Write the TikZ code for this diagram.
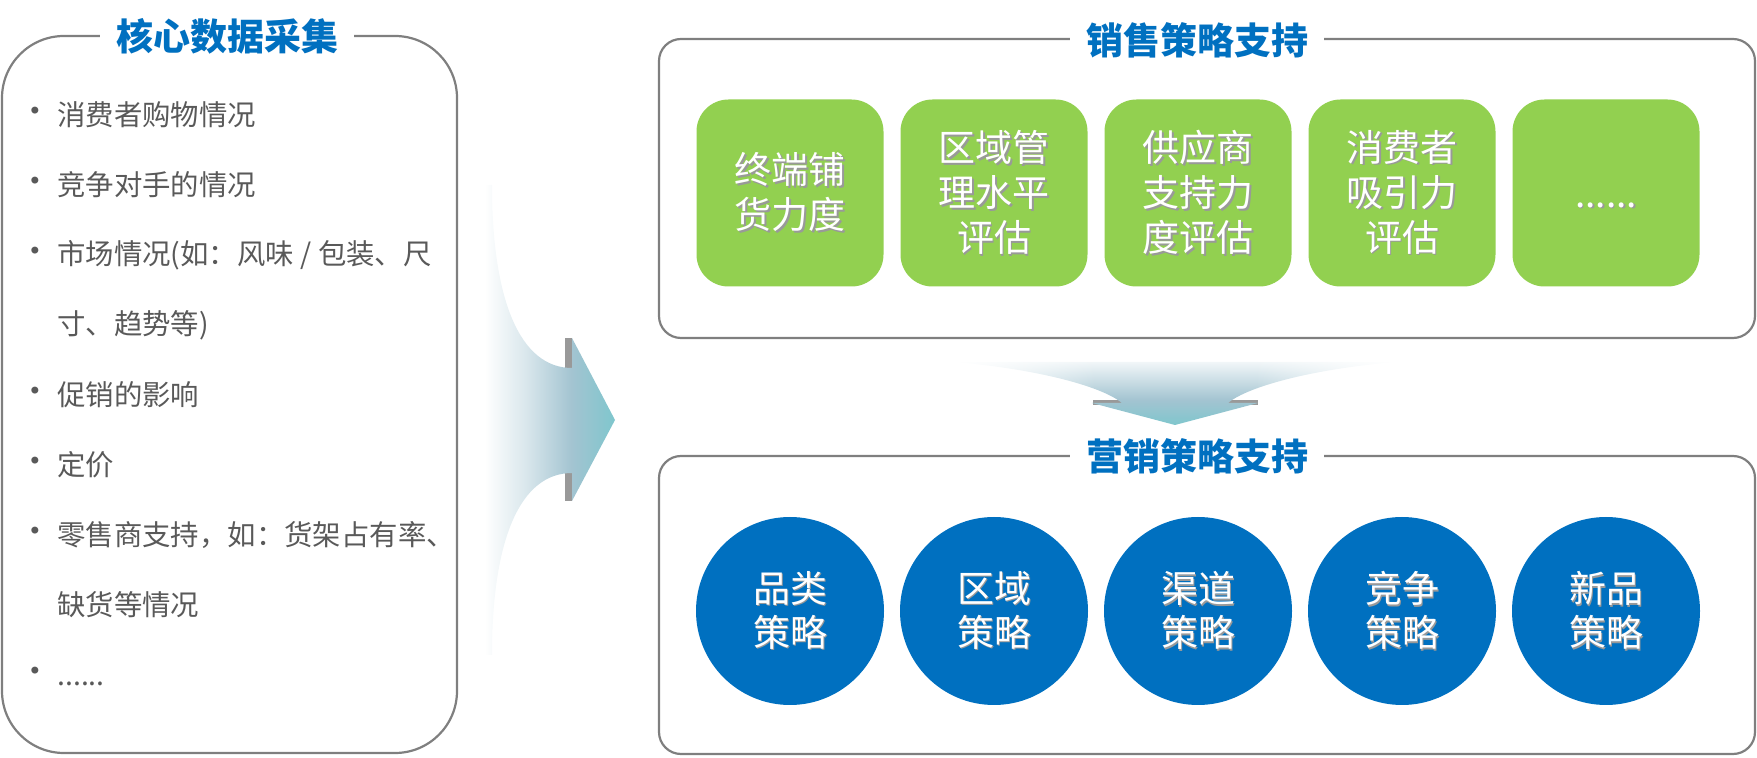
\documentclass[tikz,border=0pt]{standalone}
\usepackage{fontspec}
\setmainfont{Noto Sans CJK SC}
\newfontfamily\dotfont{DejaVu Sans}
\usetikzlibrary{positioning, fadings}

\definecolor{titleblue}{HTML}{0070C0}
\definecolor{leafgreen}{HTML}{92D050}
\definecolor{framegray}{HTML}{7F7F7F}
\definecolor{textgray}{HTML}{595959}
\definecolor{arrowteal}{HTML}{7FC6CD}
\definecolor{arrowmist}{HTML}{A3C4D1}

% washes for the two arrows (path spans 25bp to 75bp)
\pgfdeclarehorizontalshading{arrowwash}{100bp}{color(0bp)=(white); color(25bp)=(white); color(30bp)=(white); color(44bp)=(arrowmist!40); color(60bp)=(arrowmist); color(75bp)=(arrowteal); color(100bp)=(arrowteal)}
\pgfdeclareverticalshading{dropwash}{100bp}{color(0bp)=(arrowteal); color(25bp)=(arrowteal); color(45bp)=(arrowmist); color(75bp)=(arrowmist!15); color(100bp)=(arrowmist!15)}
\pgfdeclarehorizontalshading{sidemask}{100bp}{color(0bp)=(pgftransparent!100); color(25bp)=(pgftransparent!100); color(41bp)=(pgftransparent!0); color(59bp)=(pgftransparent!0); color(75bp)=(pgftransparent!100); color(100bp)=(pgftransparent!100)}
\pgfdeclarefading{sidefade}{\pgfuseshading{sidemask}}

% white text with a soft drop shadow
\newcommand{\lift}[1]{\makebox[0pt][l]{\hspace{0.9pt}\raisebox{-0.9pt}{\textcolor{black!40}{#1}}}#1}

\tikzset{
	panel/.style={draw=framegray, line width=1.1pt, rounded corners=11pt, inner sep=0pt}, % the frames
	paneltitle/.style={fill=white, text=titleblue, font=\fontsize{18.5}{22}\selectfont\bfseries, inner xsep=8pt, inner ysep=2pt},
	listitem/.style={anchor=west, inner sep=0pt, text=textgray, font=\fontsize{14.2}{17}\selectfont},
	listdot/.style={inner sep=0pt, text=textgray, font=\dotfont\fontsize{12}{14}\selectfont},
	greenbox/.style={fill=leafgreen, rounded corners=16pt, minimum size=93.5pt, text=white, align=center, font=\fontsize{18.5}{22.5}\selectfont, inner sep=0pt},
	bluedisc/.style={circle, fill=titleblue, minimum size=94pt, text=white, align=center, font=\fontsize{18.5}{22}\selectfont, inner sep=0pt},
	node distance=102pt, % centre to centre of the boxes and discs
}

\begin{document}
\begin{tikzpicture}[x=0.5pt, y=-0.5pt]
	\useasboundingbox (0,0) rectangle (1757,758);

	% frames
	\node[panel, rounded corners=31pt, minimum width=227.5pt, minimum height=358.5pt] (collect) at (229.5,394.5) {};
	\node[panel, minimum width=548pt, minimum height=149.5pt] (sales) at (1207,188.5) {};
	\node[panel, minimum width=548pt, minimum height=149pt] (market) at (1207,605) {};

	\node[paneltitle] (collecttitle) at (227,36) {核心数据采集};
	\node[paneltitle] (salestitle) at (1197,40) {销售策略支持};
	\node[paneltitle] (markettitle) at (1197,456) {营销策略支持};

	% data list
	\node[listdot] (d1) at (35,113) {•};
	\node[listitem] (i1) at (57,115) {消费者购物情况};
	\node[listdot] (d2) at (35,183) {•};
	\node[listitem] (i2) at (57,185) {竞争对手的情况};
	\node[listdot] (d3) at (35,253) {•};
	\node[listitem] (i3) at (57,255) {市场情况(如：风味 / 包装、尺};
	\node[listitem] (i4) at (57,325) {寸、趋势等)};
	\node[listdot] (d5) at (35,393) {•};
	\node[listitem] (i5) at (57,395) {促销的影响};
	\node[listdot] (d6) at (35,463) {•};
	\node[listitem] (i6) at (57,465) {定价};
	\node[listdot] (d7) at (35,533) {•};
	\node[listitem] (i7) at (57,535) {零售商支持，如：货架占有率、};
	\node[listitem] (i8) at (57,605) {缺货等情况};
	\node[listdot] (d9) at (35,673) {•};
	\node[listitem] (i9) at (57,675) {\vphantom{缺}......};

	% sales support boxes
	\node[greenbox] (g1) at (790,193) {\lift{终端铺}\\\lift{货力度}};
	\node[greenbox, right of=g1] (g2) {\lift{区域管}\\\lift{理水平}\\\lift{评估}};
	\node[greenbox, right of=g2] (g3) {\lift{供应商}\\\lift{支持力}\\\lift{度评估}};
	\node[greenbox, right of=g3] (g4) {\lift{消费者}\\\lift{吸引力}\\\lift{评估}};
	\node[greenbox, right of=g4] (g5) {\vphantom{终}\lift{......}};

	% marketing discs
	\node[bluedisc] (c1) at (790,611) {\lift{品类}\\\lift{策略}};
	\node[bluedisc, right of=c1] (c2) {\lift{区域}\\\lift{策略}};
	\node[bluedisc, right of=c2] (c3) {\lift{渠道}\\\lift{策略}};
	\node[bluedisc, right of=c3] (c4) {\lift{竞争}\\\lift{策略}};
	\node[bluedisc, right of=c4] (c5) {\lift{新品}\\\lift{策略}};

	% big arrow to the right
	\fill[black!50, opacity=.8] (565,338) rectangle (572,368);
	\fill[black!50, opacity=.8] (565,473) rectangle (572,501);
	\shade[shading=arrowwash]
		(470,185) -- (492,185) .. controls (492,300) and (520,368) .. (572,368)
		-- (572,338) -- (615,420) -- (572,501) -- (572,473)
		.. controls (520,473) and (492,540) .. (492,655) -- (470,655) -- cycle;

	% arrow down
	\fill[black!50, opacity=.8] (1093,400) rectangle (1122,405);
	\fill[black!50, opacity=.8] (1228,400) rectangle (1258,405);
	\shade[shading=dropwash, path fading=sidefade]
		(952,362) -- (1398,362) .. controls (1320,368) and (1250,385) .. (1228,403)
		-- (1258,403) -- (1175,425) -- (1092,403) -- (1122,403)
		.. controls (1100,385) and (1030,368) .. (952,362) -- cycle;
\end{tikzpicture}
\end{document}
